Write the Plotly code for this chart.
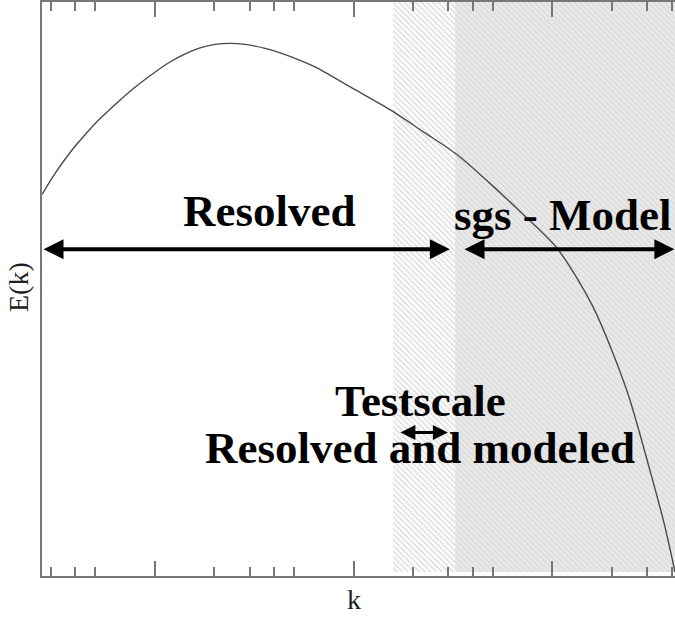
import numpy as np
import plotly.graph_objects as go

# ---- data (arbitrary units) ----
k_vals = [0.272, 0.316, 0.376, 0.448, 0.532, 0.648, 0.780, 0.949, 1.156, 1.391,
          1.693, 2.014, 2.396, 2.849, 3.592, 4.424, 5.387, 6.554, 9.59, 15.25,
          22.35, 33.1, 48.5, 71.1, 105.4, 159.9, 236.7, 309, 367, 413]
E_vals = [383, 404, 425, 443, 459, 475, 489, 502, 514, 523,
          530, 533.5, 534.5, 533.5, 529.5, 524, 517.5, 510, 491, 468,
          446, 423, 394, 363, 329, 270, 186, 106, 50, 4]

k_test_lo = 15.8     # start of test-scale band
k_cut = 32.4         # grid cutoff
k_max = 413          # right end of the axis
k_min = 0.2716       # left end of the axis
E_top = 576

# arrow extents (k) and levels (E)
resolved_arrow = [0.2716, 30.5]
sgs_arrow = [35.5, 410]
test_arrow = [16.9, 29.8]
E_main_arrow = 328
E_test_arrow = 144

labels = ["Resolved", "sgs - Model", "Testscale", "Resolved and modeled"]
label_k = [3.76, 113, 21.8, 21.7]
label_E = [366, 362, 176, 128]

L = np.log10

fig = go.Figure()

# shaded regions
fig.add_trace(go.Scatter(
    x=[k_test_lo, k_cut, k_cut, k_test_lo, k_test_lo],
    y=[4, 4, E_top, E_top, 4], mode="lines", line=dict(width=0),
    fill="toself", fillcolor="white",
    fillpattern=dict(shape="\\", bgcolor="white", fgcolor="#b5b5b5", size=4, solidity=0.35),
    hoverinfo="skip", showlegend=False))
fig.add_trace(go.Scatter(
    x=[k_cut, 2000, 2000, k_cut, k_cut],
    y=[4, 4, E_top, E_top, 4], mode="lines", line=dict(width=0),
    fill="toself", fillcolor="#e6e6e6",
    fillpattern=dict(shape="\\", bgcolor="#e9e9e9", fgcolor="#cbcbcb", size=4, solidity=0.35),
    hoverinfo="skip", showlegend=False))

# spectrum curve
fig.add_trace(go.Scatter(x=k_vals, y=E_vals, mode="lines",
                         line=dict(color="#4a4a4a", width=1.4, shape="spline", smoothing=0.8),
                         showlegend=False, hoverinfo="skip"))

font_big = dict(family="Liberation Serif", size=45, color="black")

annos = []
for a, E, w in [(resolved_arrow, E_main_arrow, 4), (sgs_arrow, E_main_arrow, 4),
                (test_arrow, E_test_arrow, 3)]:
    annos.append(dict(x=L(a[1]), y=E, ax=L(a[0]), ay=E, xref="x", yref="y",
                      axref="x", ayref="y", text="", showarrow=True,
                      arrowhead=2, arrowside="end+start", arrowsize=1.0,
                      arrowwidth=w, arrowcolor="black"))
for t, kk, E in zip(labels, label_k, label_E):
    annos.append(dict(x=L(kk), y=E, xref="x", yref="y", text="<b>%s</b>" % t,
                      showarrow=False, font=font_big, xanchor="center", yanchor="middle"))

# axis titles
annos.append(dict(x=L(10), y=-24/576, xref="x", yref="paper", text="k", showarrow=False,
                  font=dict(family="Liberation Serif", size=28, color="#222"),
                  xanchor="center", yanchor="middle"))
annos.append(dict(x=-24/633, y=290/576, xref="paper", yref="paper", text="E(k)", showarrow=False,
                  textangle=-90,
                  font=dict(family="Liberation Serif", size=28, color="#222"),
                  xanchor="center", yanchor="middle"))

fig.update_layout(
    width=675, height=620,
    margin=dict(l=42, r=0, t=0, b=44),
    paper_bgcolor="white", plot_bgcolor="white",
    annotations=annos,
    xaxis=dict(type="log", range=[L(k_min), L(k_max)], showgrid=False, zeroline=False,
               showline=True, linecolor="#777", linewidth=2, mirror="allticks",
               ticks="inside", ticklen=15, tickwidth=1.5, tickcolor="#777",
               tickvals=[1, 10, 100], showticklabels=False,
               minor=dict(ticks="inside", ticklen=9, tickwidth=1.5, tickcolor="#777",
                          tickmode="array",
                          tickvals=[0.3, 0.4, 0.5, 2, 3, 4, 5, 20, 30, 40, 50, 200, 300, 400],
                          showgrid=False)),
    yaxis=dict(range=[0, E_top], showgrid=False, zeroline=False, showline=True,
               linecolor="#777", linewidth=2, ticks="", showticklabels=False),
)

fig.write_html("out.html")
